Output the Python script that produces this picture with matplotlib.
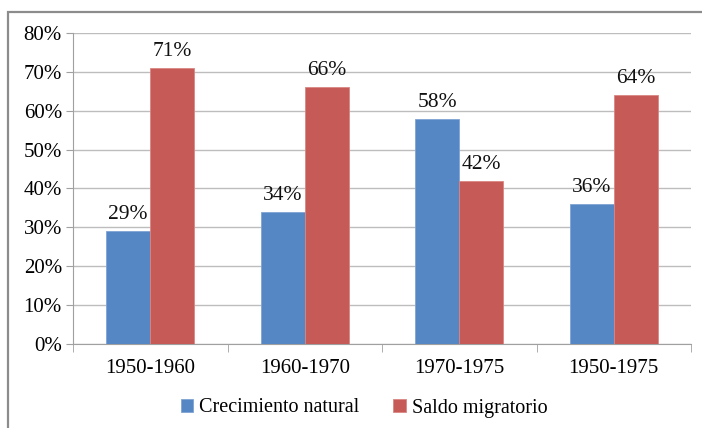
import matplotlib.pyplot as plt
from matplotlib.patches import Rectangle
import numpy as np

periods = ["1950-1960", "1960-1970", "1970-1975", "1950-1975"]
crecimiento = [29, 34, 58, 36]
saldo = [71, 66, 42, 64]

plt.rcParams['font.family'] = ['Liberation Serif', 'DejaVu Serif']
FS = 15

W, H = 702, 428
fig = plt.figure(figsize=(W / 100, H / 100), dpi=100)
ax = fig.add_axes([73 / W, 1 - 344 / H, (691 - 73) / W, (344 - 33) / H])

# chart frame, only top and left edges fall inside the picture
fig.patches.append(Rectangle((8 / W, -0.1), 1.2, 1 - 12 / H + 0.1,
                             transform=fig.transFigure, fill=False,
                             edgecolor='#8c8c8c', linewidth=1.6))

x = np.arange(len(periods))
w = 0.285
b1 = ax.bar(x - w / 2, crecimiento, w, color='#5687C5', edgecolor='#7fa3d3',
            linewidth=0.6, label='Crecimiento natural', zorder=3)
b2 = ax.bar(x + w / 2, saldo, w, color='#C65A56', edgecolor='#d88682',
            linewidth=0.6, label='Saldo migratorio', zorder=3)

for bars, vals in ((b1, crecimiento), (b2, saldo)):
    for r, v in zip(bars, vals):
        ax.annotate(f"{v}%", (r.get_x() + r.get_width() / 2, v),
                    xytext=(0, 5), textcoords='offset points',
                    ha='center', va='bottom', fontsize=FS + 0.5, color='#111111')

ax.set_xlim(-0.5, len(periods) - 0.5)
ax.set_ylim(0, 80)
ax.set_yticks(range(0, 81, 10))
ax.set_yticklabels([f"{t}%" for t in range(0, 81, 10)], fontsize=FS)
ax.set_xticks(x)
ax.set_xticklabels(periods, fontsize=FS)
ax.set_xticks(np.arange(-0.5, len(periods)), minor=True)
ax.tick_params(axis='x', which='major', length=0, pad=11)
ax.tick_params(axis='x', which='minor', length=6, color='#a0a0a0')
ax.tick_params(axis='y', length=5, color='#a0a0a0', pad=3)

ax.yaxis.grid(True, color='#bdbdbd', linewidth=1.0, zorder=0)
for s in ('top', 'right'):
    ax.spines[s].set_visible(False)
for s in ('left', 'bottom'):
    ax.spines[s].set_color('#a0a0a0')

fig.legend(handles=[b1, b2], loc='center', bbox_to_anchor=(364 / W, 1 - 408 / H),
           ncol=2, frameon=False,
           prop={'family': ['Liberation Serif'], 'size': 14.5},
           handlelength=0.6, handleheight=0.6, handletextpad=0.3,
           columnspacing=1.7)

fig.savefig('out.png', dpi=100)
